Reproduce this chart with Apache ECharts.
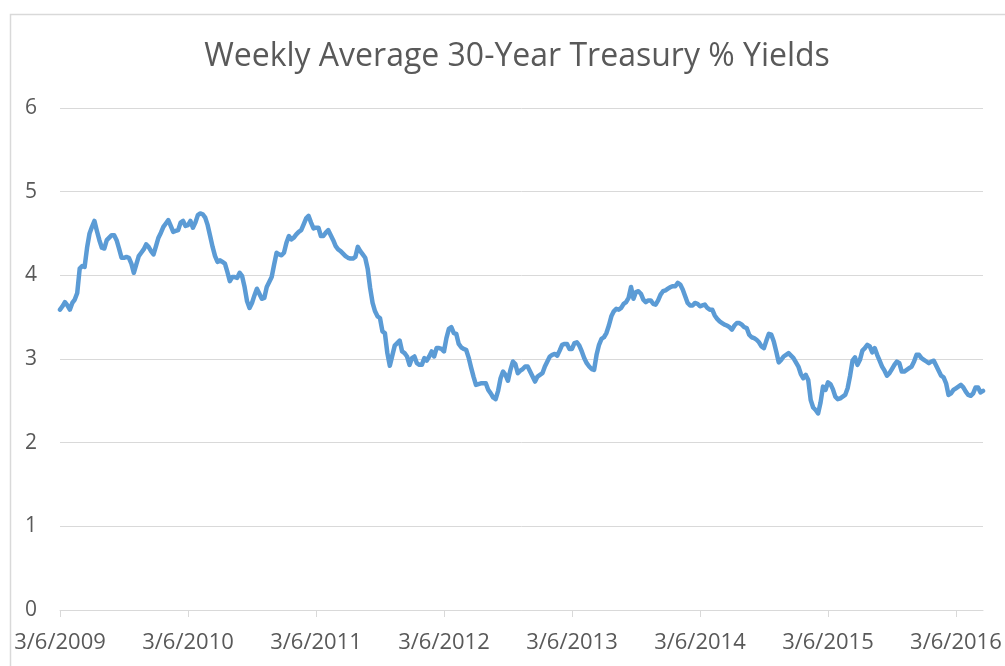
<!DOCTYPE html>
<html>
<head>
<meta charset="utf-8">
<script src="https://cdn.jsdelivr.net/npm/echarts@6/dist/echarts.min.js"></script>
<style>html,body{margin:0;padding:0;background:#fff;}#c{width:1005px;height:666px;}</style>
</head>
<body>
<div id="c"></div>
<script>
var titleText = 'Weekly Average 30-Year Treasury % Yields';
var tickLabels = ['3/6/2009','3/6/2010','3/6/2011','3/6/2012','3/6/2013','3/6/2014','3/6/2015','3/6/2016'];
var yields = [
3.59,3.63,3.68,3.64,3.59,3.67,3.71,3.79,4.08,4.11,4.10,4.33,4.50,4.58,4.65,4.53,4.42,4.33,4.32,4.42,
4.45,4.48,4.48,4.42,4.32,4.21,4.21,4.22,4.21,4.14,4.03,4.13,4.23,4.27,4.31,4.37,4.34,4.29,4.25,4.35,
4.45,4.51,4.58,4.62,4.66,4.59,4.52,4.53,4.54,4.63,4.65,4.59,4.60,4.65,4.57,4.63,4.72,4.74,4.73,4.69,
4.60,4.47,4.34,4.23,4.16,4.18,4.16,4.14,4.04,3.93,3.98,3.98,3.97,4.03,3.99,3.86,3.69,3.61,3.67,3.76,
3.84,3.78,3.72,3.73,3.86,3.92,3.98,4.13,4.27,4.25,4.24,4.27,4.39,4.47,4.43,4.45,4.49,4.52,4.54,4.61,
4.68,4.71,4.63,4.56,4.57,4.57,4.47,4.47,4.51,4.54,4.48,4.42,4.35,4.31,4.29,4.26,4.23,4.21,4.20,4.20,
4.22,4.34,4.29,4.25,4.21,4.08,3.85,3.67,3.57,3.51,3.49,3.33,3.31,3.07,2.92,3.04,3.16,3.19,3.22,3.09,
3.07,3.03,2.93,3.01,3.03,2.95,2.93,2.93,3.01,2.98,3.03,3.09,3.03,3.13,3.13,3.12,3.09,3.25,3.36,3.38,
3.31,3.30,3.18,3.14,3.12,3.11,3.02,2.90,2.79,2.69,2.70,2.71,2.71,2.71,2.63,2.59,2.54,2.52,2.62,2.77,
2.85,2.81,2.74,2.87,2.97,2.94,2.83,2.86,2.88,2.91,2.91,2.85,2.79,2.73,2.79,2.81,2.83,2.91,2.97,3.03,
3.05,3.06,3.04,3.10,3.17,3.18,3.18,3.12,3.12,3.19,3.20,3.16,3.09,3.01,2.95,2.91,2.88,2.87,3.05,3.17,
3.24,3.26,3.31,3.40,3.51,3.57,3.60,3.59,3.61,3.66,3.68,3.73,3.86,3.72,3.80,3.81,3.78,3.71,3.68,3.70,
3.70,3.66,3.65,3.70,3.77,3.81,3.82,3.84,3.86,3.87,3.87,3.91,3.89,3.83,3.75,3.67,3.64,3.64,3.67,3.66,
3.63,3.64,3.65,3.61,3.59,3.59,3.52,3.48,3.45,3.43,3.41,3.40,3.38,3.35,3.40,3.43,3.43,3.41,3.38,3.37,
3.29,3.26,3.25,3.23,3.20,3.15,3.13,3.22,3.30,3.29,3.21,3.09,2.96,2.99,3.03,3.05,3.07,3.04,3.01,2.96,
2.91,2.82,2.77,2.81,2.75,2.51,2.42,2.39,2.35,2.48,2.67,2.63,2.72,2.70,2.64,2.55,2.52,2.53,2.55,2.57,
2.65,2.80,2.98,3.02,2.93,2.99,3.10,3.13,3.17,3.15,3.08,3.13,3.05,2.98,2.91,2.86,2.80,2.83,2.88,2.93,
2.97,2.95,2.85,2.85,2.87,2.89,2.91,2.97,3.05,3.05,3.01,2.99,2.97,2.95,2.97,2.98,2.92,2.86,2.80,2.78,
2.71,2.57,2.59,2.63,2.65,2.67,2.69,2.66,2.61,2.57,2.56,2.59,2.66,2.66,2.60,2.62
];

// weekly category dates starting 3/6/2009
var weeks = [];
(function(){
  var d = new Date(2009, 2, 6);
  for (var i = 0; i < yields.length; i++) {
    var t = new Date(d.getFullYear(), d.getMonth(), d.getDate() + 7 * i);
    weeks.push((t.getMonth() + 1) + '/' + t.getDate() + '/' + t.getFullYear());
  }
})();

var chart = echarts.init(document.getElementById('c'), null, {renderer: 'canvas'});
chart.setOption({
  animation: false,
  backgroundColor: '#ffffff',
  graphic: [{
    type: 'rect', left: 8, top: 12, silent: true, z: -1,
    shape: {width: 1100, height: 700},
    style: {fill: 'none', stroke: '#d9d9d9', lineWidth: 1.5}
  }],
  title: {
    text: titleText,
    left: 512, top: 36, textAlign: 'center',
    textStyle: {color: '#595959', fontSize: 32, fontWeight: 'normal', fontFamily: 'Open Sans'}
  },
  grid: {left: 60, right: 22, top: 108, bottom: 56, containLabel: false},
  xAxis: {
    type: 'category',
    data: weeks,
    boundaryGap: false,
    axisLine: {show: true, lineStyle: {color: '#d9d9d9', width: 1}},
    axisTick: {show: true, interval: 51, length: 7, lineStyle: {color: '#d9d9d9'}},
    axisLabel: {
      interval: 51, color: '#595959', fontSize: 22, fontFamily: 'Open Sans', margin: 22,
      formatter: function (v, idx) { return idx % 52 === 0 ? (tickLabels[idx / 52] || '') : ''; }
    },
    splitLine: {show: false}
  },
  yAxis: {
    type: 'value', min: 0, max: 6, interval: 1,
    axisLine: {show: false}, axisTick: {show: false},
    axisLabel: {color: '#595959', fontSize: 21, fontFamily: 'Open Sans', margin: 23},
    splitLine: {lineStyle: {color: '#d9d9d9', width: 1}}
  },
  series: [{
    type: 'line',
    data: yields,
    showSymbol: false,
    symbol: 'none',
    smooth: false,
    lineStyle: {color: '#5b9bd5', width: 4.5, join: 'round', cap: 'round'}
  }]
});
</script>
</body>
</html>
